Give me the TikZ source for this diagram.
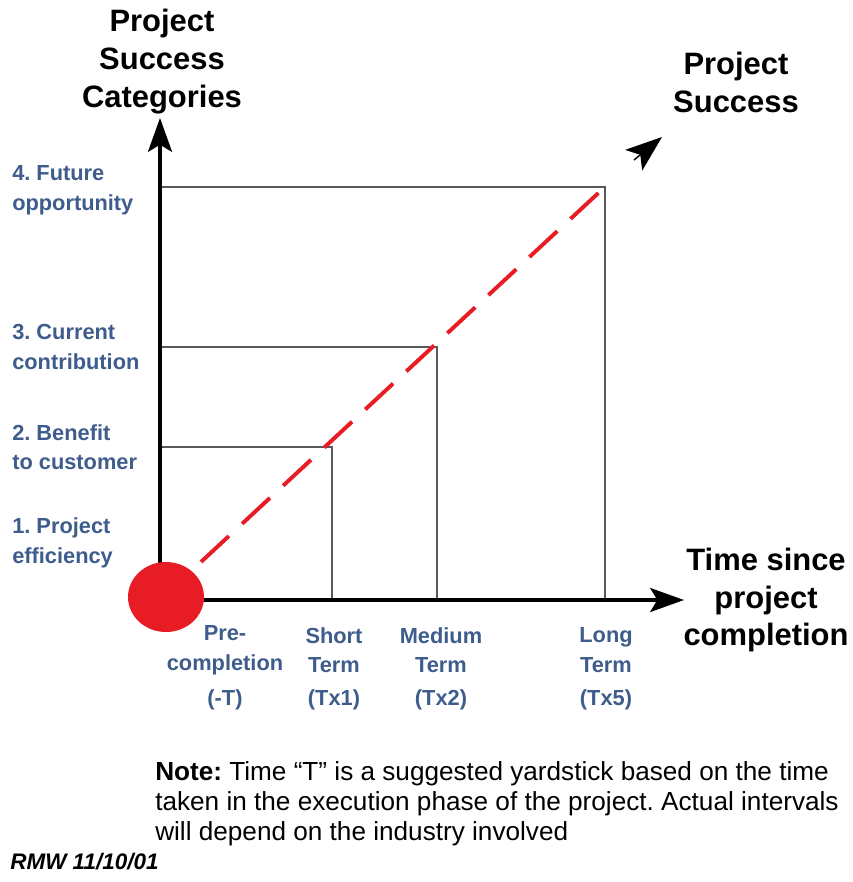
\documentclass[tikz,border=0pt]{standalone}
\usepackage{fontspec}
\setmainfont{Liberation Sans}
\usetikzlibrary{arrows.meta,positioning,shapes.geometric}
\frenchspacing

\definecolor{catblue}{RGB}{62,92,140}
\definecolor{trendred}{RGB}{232,28,36}
\tikzset{
  axis/.style={line width=2.6pt,-{Stealth[length=24pt,width=17pt,inset=5pt]}},
  gridline/.style={line width=1.3pt,draw=black!65},
  trend/.style={line width=2.8pt,draw=trendred,dash pattern=on 0.95cm off 0.45cm},
  heading/.style={font=\bfseries\fontsize{22}{27}\selectfont,align=center},
  catlabel/.style={font=\bfseries\fontsize{15.5}{21}\selectfont,text=catblue,align=left,anchor=west,inner sep=0pt},
  termlabel/.style={font=\bfseries\fontsize{15.5}{21}\selectfont,text=catblue,align=center,inner sep=0pt},
}

\begin{document}
\begin{tikzpicture}[x=0.025cm,y=-0.025cm]
	\useasboundingbox (0,0) rectangle (853,882);
	\coordinate (O) at (160,600);
	\coordinate (ytip) at (160,118);
	\coordinate (xtip) at (684,600);
	\coordinate (s2) at (332,447);
	\coordinate (s3) at (437,347);
	\coordinate (s4) at (605,187);
	\coordinate (trendend) at (607,185);
	\coordinate (hback) at (634,160);
	\coordinate (htip) at (662,137);
	% grid lines
	\draw[gridline] (O |- s2) -- (s2) -- (s2 |- O);
	\draw[gridline] (O |- s3) -- (s3) -- (s3 |- O);
	\draw[gridline] (O |- s4) -- (s4) -- (s4 |- O);
	% axes
	\draw[axis] (O) -- (ytip);
	\draw[axis] (O) -- (xtip);
	% success trend
	\draw[trend] (O) -- (trendend);
	\draw[line width=1pt,-{Stealth[length=26pt,width=19pt,inset=6pt]}] (hback) -- (htip);
	\node (start) [ellipse,fill=trendred,inner sep=0pt,minimum width=1.9cm,minimum height=1.75cm] at (166,597) {};
	% headings
	\node[heading] (ycap) at (162,62) {Project\\Success\\Categories};
	\node[heading] (scap) at (736,82) {Project\\Success};
	\node[heading] (xcap) at (766,600) {Time since\\project\\completion};
	% categories
	\node[catlabel] (cat4) at (12,190) {4. Future\\opportunity};
	\node[catlabel] (cat3) at (12,347) {3. Current\\contribution};
	\node[catlabel] (cat2) at (12,447) {2. Benefit\\to customer};
	\node[catlabel] (cat1) at (12,543) {1. Project\\efficiency};
	% time periods
	\node[termlabel] (pre) at (225,650) {Pre-\\completion};
	\node[termlabel] (short) at (334,650) {Short\\Term};
	\node[termlabel] (medium) at (441,650) {Medium\\Term};
	\node[termlabel] (long) at (606,650) {Long\\Term};
	\node[termlabel] (tpre) at (225,700) {(-T)};
	\node[termlabel] (tshort) at (334,700) {(Tx1)};
	\node[termlabel] (tmedium) at (441,700) {(Tx2)};
	\node[termlabel] (tlong) at (606,700) {(Tx5)};
	% note
	\node[anchor=west,align=left,inner sep=0pt,font=\fontsize{18.6}{21.3}\selectfont] (note) at (155,804)
		{\textbf{Note:} Time ``T'' is a suggested yardstick based on the time\\
		taken in the execution phase of the project. Actual intervals\\
		will depend on the industry involved};
	\node[anchor=west,inner sep=0pt,font=\bfseries\itshape\fontsize{16}{18}\selectfont] (sig) at (10,862) {RMW 11/10/01};
\end{tikzpicture}
\end{document}
